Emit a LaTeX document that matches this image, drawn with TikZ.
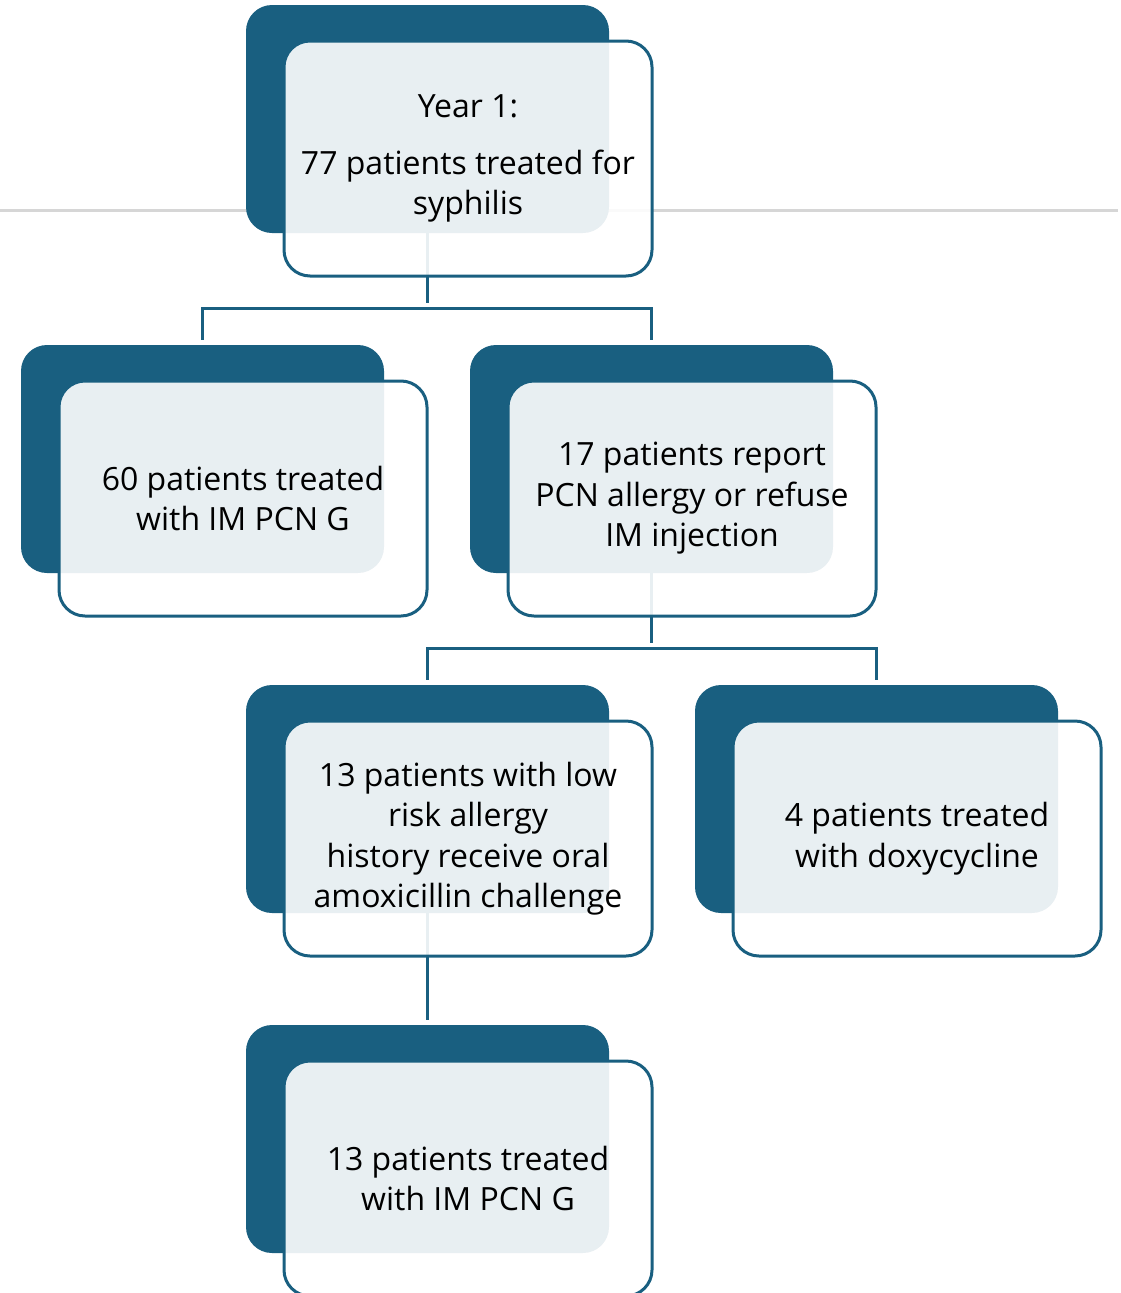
\documentclass[tikz,border=0pt]{standalone}
\usepackage{fontspec}
\setmainfont{Open Sans}
\usetikzlibrary{positioning}

\definecolor{darkteal}{HTML}{195F80}
\definecolor{linegray}{HTML}{D6D6D6}

\begin{document}
\begin{tikzpicture}[x=1pt, y=-1pt, node distance=36pt and 38pt,
        back/.style={fill=darkteal, rounded corners=26pt, minimum width=363pt,
            minimum height=228pt, outer sep=0pt, anchor=north west},
        front/.style={draw=darkteal, line width=3pt, fill=white, fill opacity=0.9,
            text opacity=1, rounded corners=26pt, minimum width=368pt,
            minimum height=235pt, outer sep=0pt, align=center,
            font=\fontsize{32}{40.5}\selectfont},
        link/.style={draw=darkteal, line width=3pt, shorten >=5pt}]
        \useasboundingbox (0,0) rectangle (1121,1293);

        % gray rule behind the top box
        \draw[linegray, line width=3pt] (0,210) -- (1118,210);

        \node[back] (year-back) at (246,5) {};
        \node[back] (im-back) at (21,345) {};
        \node[back] (allergy-back) at (470,345) {};
        \node[back] (amox-back) at (246,685) {};
        \node[back] (doxy-back) at (695,685) {};
        \node[back] (final-back) at (246,1025) {};

        % connectors
        \draw[link] (year-back.south) -- ++(0,75) coordinate (j1);
        \draw[link] (j1) -| (im-back.north);
        \draw[link] (j1) -| (allergy-back.north);
        \draw[link] (allergy-back.south) -- ++(0,75) coordinate (j2);
        \draw[link] (j2) -| (amox-back.north);
        \draw[link] (j2) -| (doxy-back.north);
        \draw[link] (amox-back.south) -- (final-back.north);

        \node[front] (year) [below right=of year-back.north west]
            {Year 1:\\[16pt] 77 patients treated for\\ syphilis};
        \node[front] (im) [below right=of im-back.north west]
            {60 patients treated\\ with IM PCN G};
        \node[front] (allergy) [below right=of allergy-back.north west]
            {17 patients report\\ PCN allergy or refuse\\ IM injection};
        \node[front] (amox) [below right=of amox-back.north west]
            {13 patients with low\\ risk allergy\\ history receive oral\\ amoxicillin challenge};
        \node[front] (doxy) [below right=of doxy-back.north west]
            {4 patients treated\\ with doxycycline};
        \node[front] (final) [below right=of final-back.north west]
            {13 patients treated\\ with IM PCN G};
\end{tikzpicture}
\end{document}
